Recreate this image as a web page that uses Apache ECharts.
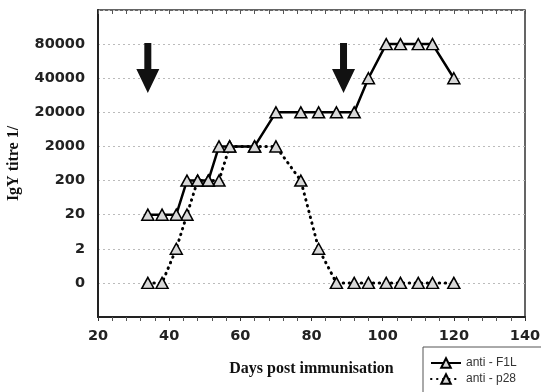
<!DOCTYPE html>
<html>
<head>
<meta charset="utf-8">
<script src="https://cdn.jsdelivr.net/npm/echarts@6/dist/echarts.min.js"></script>
<style>html,body{margin:0;padding:0;background:#fff}#c{width:541px;height:392px}</style>
</head>
<body>
<div id="c"></div>
<script>
var yLevels = ['0', '2', '20', '200', '2000', '20000', '40000', '80000'];
var days = [34, 38, 42, 45, 48, 51, 54, 57, 64, 70, 77, 82, 87, 92, 96, 101, 105, 110, 114, 120];
var antiF1L = ['20','20','20','200','200','200','2000','2000','2000','20000','20000','20000','20000','20000','40000','80000','80000','80000','80000','40000'];
var antiP28 = ['0','0','2','20','200','200','200','2000','2000','2000','200','2','0','0','0','0','0','0','0','0'];
var arrowDays = [34, 89];
var arrowLevel = 6.3;

function toPts(vals) {
  return days.map(function (d, i) { return [d, yLevels.indexOf(vals[i])]; });
}

var chart = echarts.init(document.getElementById('c'));
var tickFont = { fontFamily: 'DejaVu Sans', fontWeight: 'bold', fontSize: 14.5, color: '#222' };
var sym = { symbol: 'triangle', symbolSize: [12, 11], itemStyle: { color: '#d8d8d8', borderColor: '#000', borderWidth: 1.5 } };
var arrowPath = 'path://M8,0 L15,0 L15,26 L23,26 L11.5,50 L0,26 L8,26 Z';

chart.setOption({
  animation: false,
  grid: { left: 98, right: 16, top: 10, bottom: 75, show: true, borderColor: '#333', borderWidth: 1.5, containLabel: false, outerBoundsMode: 'none' },
  xAxis: [{
    type: 'value', min: 20, max: 140, interval: 20, position: 'bottom',
    name: 'Days post immunisation', nameLocation: 'middle', nameGap: 44,
    nameTextStyle: { fontFamily: 'Liberation Serif', fontWeight: 'bold', fontSize: 16, color: '#111' },
    axisLine: { onZero: false, lineStyle: { color: '#222', width: 2 } },
    axisTick: { show: true, inside: false, length: 4, lineStyle: { color: '#333' } },
    minorTick: { show: true, splitNumber: 5, length: 4, lineStyle: { color: '#555' } },
    axisLabel: Object.assign({ margin: 12 }, tickFont),
    splitLine: { show: false }
  }, {
    type: 'value', min: 20, max: 140, interval: 20, position: 'top',
    axisLine: { show: false, onZero: false },
    axisTick: { show: true, inside: true, length: 4, lineStyle: { color: '#555' } },
    minorTick: { show: true, splitNumber: 5, length: 4, lineStyle: { color: '#555' } },
    axisLabel: { show: false },
    splitLine: { show: false }
  }],
  yAxis: {
    type: 'value', min: -1, max: 8, interval: 1,
    name: 'IgY titre 1/', nameLocation: 'middle', nameGap: 76, nameRotate: 90,
    nameTextStyle: { fontFamily: 'Liberation Serif', fontWeight: 'bold', fontSize: 16, color: '#111' },
    axisLine: { show: true, onZero: false, lineStyle: { color: '#222', width: 2 } },
    axisTick: { show: false },
    axisLabel: Object.assign({
      margin: 13,
      formatter: function (v) { return (v >= 0 && v < yLevels.length) ? yLevels[v] : ''; }
    }, tickFont),
    splitLine: { show: true, lineStyle: { color: '#bbb', type: [2, 3], width: 1 } }
  },
  legend: {
    left: 423, top: 347, orient: 'horizontal', width: 95, selectedMode: false,
    padding: [10, 30, 20, 7], itemGap: 4, itemWidth: 30, itemHeight: 12,
    borderColor: '#555', borderWidth: 1, backgroundColor: '#fff',
    textStyle: { fontFamily: 'Liberation Sans', fontSize: 12, color: '#333' },
    data: ['anti - F1L', 'anti - p28']
  },
  series: [{
    name: 'anti - F1L', type: 'line', data: toPts(antiF1L), z: 3,
    symbol: sym.symbol, symbolSize: sym.symbolSize, itemStyle: sym.itemStyle,
    lineStyle: { color: '#000', width: 2.5 },
    markPoint: {
      symbol: arrowPath, symbolSize: [23, 50], symbolKeepAspect: false,
      itemStyle: { color: '#111', borderWidth: 0 }, label: { show: false },
      data: arrowDays.map(function (d) { return { coord: [d, arrowLevel] }; })
    }
  }, {
    name: 'anti - p28', type: 'line', data: toPts(antiP28), z: 2,
    symbol: sym.symbol, symbolSize: sym.symbolSize, itemStyle: sym.itemStyle,
    lineStyle: { color: '#000', width: 3, type: [0.5, 5.5], cap: 'round' }
  }]
});
</script>
</body>
</html>
